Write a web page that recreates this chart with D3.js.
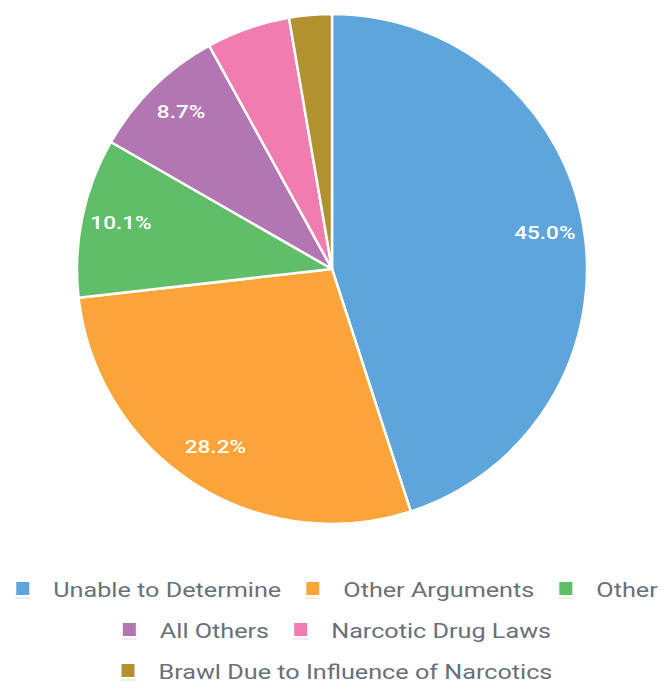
<!DOCTYPE html>
<html>
<head>
<meta charset="utf-8">
<script src="https://cdn.jsdelivr.net/npm/d3@7"></script>
<style>
  html, body { margin: 0; padding: 0; background: #ffffff; }
  svg { display: block; }
</style>
</head>
<body>
<svg id="chart" width="667" height="692"></svg>
<script>
const categories = ["Unable to Determine", "Other Arguments", "Other", "All Others", "Narcotic Drug Laws", "Brawl Due to Influence of Narcotics"];
const values = [45.0, 28.2, 10.1, 8.7, 5.3, 2.7];
const colors = ["#5DA5DA", "#FAA43A", "#60BD68", "#B276B2", "#F17CB0", "#B2912F"];
const labelThreshold = 8;

const svg = d3.select("#chart");
const cx = 332, cy = 269, R = 255;
const data = categories.map((c, i) => ({ cat: c, value: values[i], color: colors[i] }));

const pie = d3.pie().value(d => d.value).sort(null);
const arcs = pie(data);
const arc = d3.arc().innerRadius(0).outerRadius(R);
const labelArc = d3.arc().innerRadius(R * 0.845).outerRadius(R * 0.845);

const g = svg.append("g").attr("transform", `translate(${cx},${cy})`);
g.selectAll("path.slice").data(arcs).enter().append("path")
  .attr("class", "slice")
  .attr("d", arc)
  .attr("fill", d => d.data.color)
  .attr("stroke", "#ffffff")
  .attr("stroke-width", 2.5)
  .attr("stroke-linejoin", "round");

g.selectAll("text.lbl").data(arcs.filter(d => d.data.value >= labelThreshold)).enter().append("text")
  .attr("class", "lbl")
  .attr("transform", d => { const c = labelArc.centroid(d); return `translate(${c[0]},${c[1] - 3}) scale(1.22,1)`; })
  .attr("text-anchor", "middle")
  .attr("dominant-baseline", "central")
  .attr("font-family", "Roboto, sans-serif")
  .attr("font-weight", 500)
  .attr("font-size", 18.5)
  .attr("fill", "#ffffff")
  .text(d => d.data.value.toFixed(1) + "%");

// Legend
const fontSize = 21, sx = 1.2;
const box = 13, boxGap = 24, itemGap = 25, maxW = 655, rowH = 41, firstRowY = 590, centerX = 337;
const legend = svg.append("g");
const measure = svg.append("text").attr("font-family", "Roboto, sans-serif").attr("font-size", fontSize);
const items = data.map(d => {
  measure.text(d.cat);
  const tw = measure.node().getComputedTextLength() * sx;
  return { ...d, tw, w: box + boxGap + tw };
});
measure.remove();
const rows = [];
let cur = [], curW = 0;
items.forEach(it => {
  const add = cur.length ? itemGap + it.w : it.w;
  if (cur.length && curW + add > maxW) { rows.push({ items: cur, w: curW }); cur = [it]; curW = it.w; }
  else { cur.push(it); curW += add; }
});
if (cur.length) rows.push({ items: cur, w: curW });

rows.forEach((row, ri) => {
  let x = centerX - row.w / 2;
  const y = firstRowY + ri * rowH;
  row.items.forEach(it => {
    legend.append("rect")
      .attr("x", x).attr("y", y - 8)
      .attr("width", box).attr("height", box)
      .attr("fill", it.color);
    legend.append("line")
      .attr("x1", x - 1).attr("x2", x + box + 1)
      .attr("y1", y + 8).attr("y2", y + 8)
      .attr("stroke", it.color).attr("stroke-opacity", 0.35).attr("stroke-width", 1);
    legend.append("text")
      .attr("transform", `translate(${x + box + boxGap},${y}) scale(${sx},1)`)
      .attr("dominant-baseline", "central")
      .attr("font-family", "Roboto, sans-serif")
      .attr("font-size", fontSize)
      .attr("fill", "#69707a")
      .text(it.cat);
    x += it.w + itemGap;
  });
});
</script>
</body>
</html>
